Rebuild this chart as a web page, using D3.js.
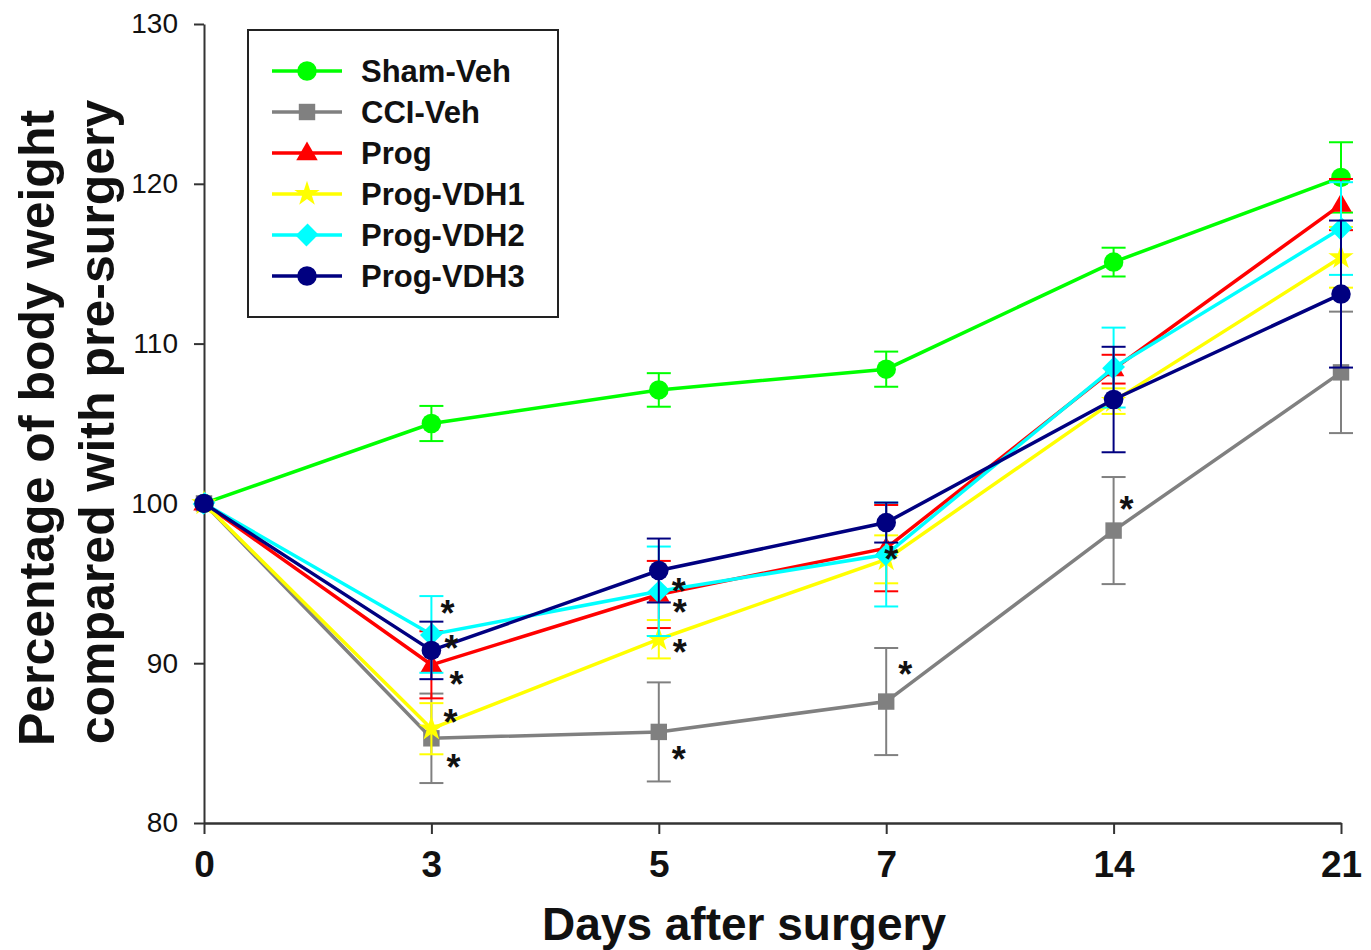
<!DOCTYPE html>
<html>
<head>
<meta charset="utf-8">
<script src="https://cdn.jsdelivr.net/npm/d3@7/dist/d3.min.js"></script>
<style>
  html, body { margin: 0; padding: 0; background: #fff; }
  svg { display: block; font-family: "Liberation Sans", Arial, sans-serif; }
</style>
</head>
<body>
<svg id="chart" width="1371" height="950"></svg>
<script>
// ---- Data ----
const days = ["0", "3", "5", "7", "14", "21"];
const yTicks = [80, 90, 100, 110, 120, 130];

const seriesNames = ["Sham-Veh", "CCI-Veh", "Prog", "Prog-VDH1", "Prog-VDH2", "Prog-VDH3"];
const shamVeh    = [100, 105.0, 107.1, 108.4, 115.1, 120.4];
const shamVehErr = [0, 1.1, 1.05, 1.1, 0.9, 2.2];
const cciVeh     = [100, 85.3, 85.7, 87.6, 98.3, 108.2];
const cciVehErr  = [0, 2.8, 3.1, 3.35, 3.35, 3.8];
const prog       = [100, 89.9, 94.3, 97.2, 108.4, 118.7];
const progErr    = [0, 2.1, 2.1, 2.7, 0.9, 1.6];
const progVDH1   = [100, 85.9, 91.5, 96.5, 106.4, 115.4];
const progVDH1Err= [0, 1.6, 1.2, 1.5, 0.8, 1.9];
const progVDH2   = [100, 91.8, 94.5, 96.8, 108.5, 117.2];
const progVDH2Err= [0, 2.4, 2.8, 3.25, 2.5, 2.9];
const progVDH3   = [100, 90.8, 95.8, 98.8, 106.5, 113.1];
const progVDH3Err= [0, 1.8, 2.0, 1.25, 3.3, 4.6];

// significance asterisks (day, value level)
const starDays   = ["3", "3", "3", "3", "3", "5", "5", "5", "5", "7", "7", "14"];
const starValues = [93.5, 91.3, 89.1, 86.7, 83.9, 94.9, 93.6, 91.1, 84.4, 96.9, 89.7, 100.0];

// ---- Styles ----
const starNudge = [16, 20, 25, 19, 22, 20, 21, 21, 20, 5, 19, 13];
const colors  = ["#00ff00", "#808080", "#ff0000", "#ffff00", "#00ffff", "#000080"];
const shapes  = ["circle", "square", "triangle", "star", "diamond", "circle"];

const values = [shamVeh, cciVeh, prog, progVDH1, progVDH2, progVDH3];
const errs   = [shamVehErr, cciVehErr, progErr, progVDH1Err, progVDH2Err, progVDH3Err];

const svg = d3.select("#chart");
const x = d3.scalePoint().domain(days).range([204, 1341]);
const y = d3.scaleLinear().domain([80, 130]).range([823, 24]);

function symbolPath(shape) {
  switch (shape) {
    case "circle":   return d3.symbol(d3.symbolCircle, 300)();
    case "square":   return d3.symbol(d3.symbolSquare, 270)();
    case "triangle": return d3.symbol(d3.symbolTriangle, 200)();
    case "star":     return d3.symbol(d3.symbolStar, 200)();
    case "diamond":  return d3.symbol(d3.symbolSquare, 260)();
  }
}
function symbolTransform(shape, px, py) {
  if (shape === "diamond") return `translate(${px},${py}) rotate(45) scale(0.95,1.05)`;
  if (shape === "triangle") return `translate(${px},${py + 1})`;
  return `translate(${px},${py})`;
}

// ---- Axes ----
const yAxis = d3.axisLeft(y).tickValues(yTicks).tickSize(10).tickSizeOuter(0).tickPadding(16);
const gy = svg.append("g").attr("transform", "translate(204,0)").call(yAxis);
gy.select(".domain").attr("stroke", "#333").attr("stroke-width", 2);
gy.selectAll(".tick line").attr("stroke", "#333").attr("stroke-width", 2);
gy.selectAll(".tick text").attr("font-size", 28).attr("fill", "#111")
  .attr("font-family", '"Liberation Sans", Arial, sans-serif');

const xAxis = d3.axisBottom(x).tickSize(11).tickSizeOuter(0).tickPadding(17);
const gx = svg.append("g").attr("transform", "translate(0,823)").call(xAxis);
gx.select(".domain").attr("stroke", "#333").attr("stroke-width", 2.5);
gx.selectAll(".tick line").attr("stroke", "#333").attr("stroke-width", 2);
gx.selectAll(".tick text").attr("font-size", 37).attr("font-weight", "bold").attr("fill", "#111")
  .attr("font-family", '"Liberation Sans", Arial, sans-serif');

// ---- Axis titles ----
svg.append("text")
  .attr("x", 744).attr("y", 940)
  .attr("text-anchor", "middle")
  .attr("font-size", 46).attr("font-weight", "bold").attr("fill", "#111")
  .text("Days after surgery");

const yt = svg.append("g").attr("transform", "translate(0,428) rotate(-90)");
yt.append("text").attr("x", 0).attr("y", 54).attr("text-anchor", "middle")
  .attr("font-size", 50).attr("font-weight", "bold").attr("fill", "#111")
  .text("Percentage of body weight");
yt.append("text").attr("x", 6).attr("y", 114).attr("text-anchor", "middle")
  .attr("font-size", 50).attr("font-weight", "bold").attr("fill", "#111")
  .text("compared with pre-surgery");

// ---- Series ----
const line = d3.line().x((d, i) => x(days[i])).y(d => y(d));
seriesNames.forEach((name, s) => {
  const g = svg.append("g");
  const col = colors[s];
  g.append("path").datum(values[s])
    .attr("d", line).attr("fill", "none").attr("stroke", col).attr("stroke-width", 3.5);
  values[s].forEach((v, i) => {
    const e = errs[s][i];
    if (e <= 0) return;
    const px = x(days[i]);
    g.append("line").attr("x1", px).attr("x2", px).attr("y1", y(v - e)).attr("y2", y(v + e))
      .attr("stroke", col).attr("stroke-width", 2);
    [v - e, v + e].forEach(b => {
      g.append("line").attr("x1", px - 12).attr("x2", px + 12).attr("y1", y(b)).attr("y2", y(b))
        .attr("stroke", col).attr("stroke-width", 2);
    });
  });
  values[s].forEach((v, i) => {
    g.append("path").attr("d", symbolPath(shapes[s]))
      .attr("transform", symbolTransform(shapes[s], x(days[i]), y(v)))
      .attr("fill", col);
  });
});

// ---- Asterisks ----
starDays.forEach((d, i) => {
  svg.append("text")
    .attr("x", x(d) + starNudge[i]).attr("y", y(starValues[i]) + 19)
    .attr("text-anchor", "middle")
    .attr("font-size", 36).attr("font-weight", "bold").attr("fill", "#111")
    .text("*");
});

// ---- Legend ----
const lg = svg.append("g");
lg.append("rect").attr("x", 248).attr("y", 30).attr("width", 310).attr("height", 287)
  .attr("fill", "#fff").attr("stroke", "#222").attr("stroke-width", 2);
seriesNames.forEach((name, s) => {
  const ry = 71 + s * 41;
  lg.append("line").attr("x1", 272).attr("x2", 342).attr("y1", ry).attr("y2", ry)
    .attr("stroke", colors[s]).attr("stroke-width", 3.5);
  lg.append("path").attr("d", symbolPath(shapes[s]))
    .attr("transform", symbolTransform(shapes[s], 307, ry)).attr("fill", colors[s]);
  lg.append("text").attr("x", 361).attr("y", ry + 11)
    .attr("font-size", 31).attr("font-weight", "bold").attr("fill", "#111")
    .text(name);
});
</script>
</body>
</html>
